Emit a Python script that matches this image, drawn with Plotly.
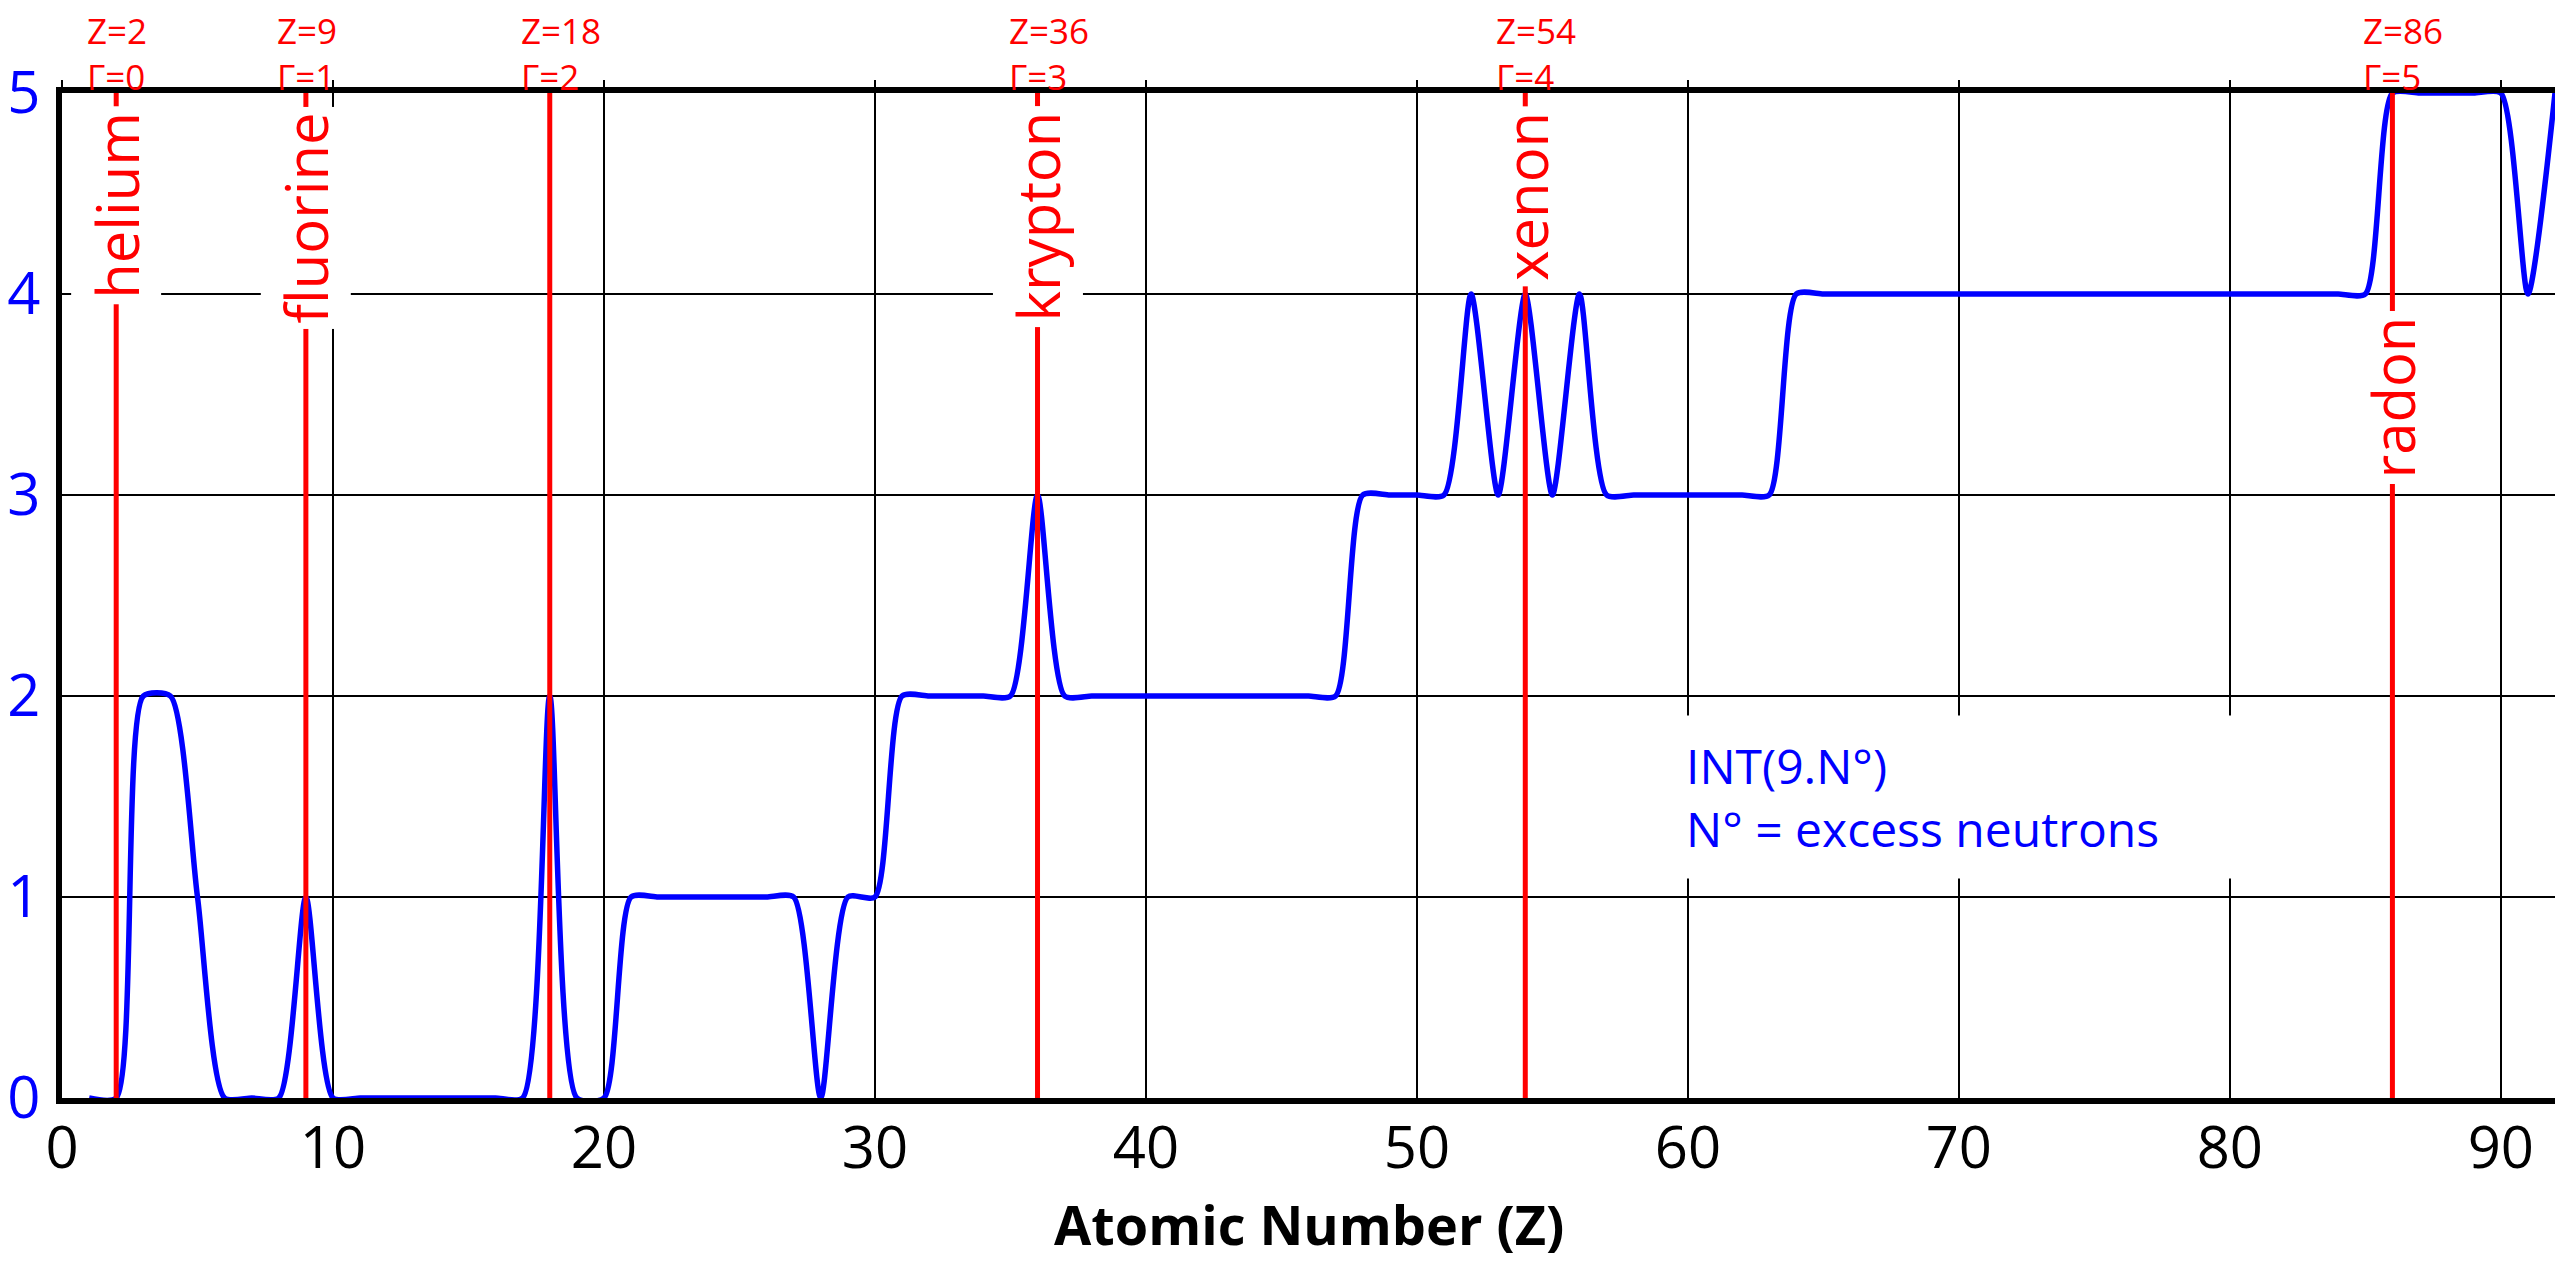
import plotly.graph_objects as go

# atomic number and INT(9.N°) value
z_vals = list(range(1, 93))
int_vals = [
    0, 0, 2, 2, 1, 0, 0, 0, 1, 0,   # 1-10
    0, 0, 0, 0, 0, 0, 0, 2, 0, 0,   # 11-20
    1, 1, 1, 1, 1, 1, 1, 0, 1, 1,   # 21-30
    2, 2, 2, 2, 2, 3, 2, 2, 2, 2,   # 31-40
    2, 2, 2, 2, 2, 2, 2, 3, 3, 3,   # 41-50
    3, 4, 3, 4, 3, 4, 3, 3, 3, 3,   # 51-60
    3, 3, 3, 4, 4, 4, 4, 4, 4, 4,   # 61-70
    4, 4, 4, 4, 4, 4, 4, 4, 4, 4,   # 71-80
    4, 4, 4, 4, 4, 5, 5, 5, 5, 5,   # 81-90
    4, 5,                           # 91-92
]

# marked elements (red lines)
mark_z = [2, 9, 18, 36, 54, 86]
mark_gamma = [0, 1, 2, 3, 4, 5]
mark_names = ["helium", "fluorine", "", "krypton", "xenon", "radon"]
name_top = [4.935, 4.935, None, 4.935, 4.935, 3.92]

x_ticks = [0, 10, 20, 30, 40, 50, 60, 70, 80, 90]
y_ticks = [0, 1, 2, 3, 4, 5]

FONT = "Open Sans"
RED = "#ff0000"
BLUE = "#0000ff"

fig = go.Figure()

fig.add_trace(go.Scatter(
    x=z_vals, y=int_vals, mode="lines",
    line=dict(color=BLUE, width=5.5, shape="spline", smoothing=0.65),
    hoverinfo="skip", showlegend=False,
))

# red vertical lines, put on the top axis (same range) so that axis is drawn
lx, ly = [], []
for z in mark_z:
    lx += [z, z, None]
    ly += [0, 5, None]
fig.add_trace(go.Scatter(
    x=lx, y=ly, xaxis="x2", mode="lines", line=dict(color=RED, width=5),
    hoverinfo="skip", showlegend=False,
))

annots = []
for z, g, name, top in zip(mark_z, mark_gamma, mark_names, name_top):
    annots.append(dict(
        x=z, xref="x", y=1.0619, yref="paper", text=f"Z={z}",
        showarrow=False, xanchor="left", yanchor="middle", xshift=-30,
        borderpad=0, font=dict(family=FONT, size=35, color=RED),
    ))
    annots.append(dict(
        x=z, xref="x", y=1.0164, yref="paper", text=f"Γ={g}",
        showarrow=False, xanchor="left", yanchor="middle", xshift=-30,
        borderpad=0, font=dict(family=FONT, size=35, color=RED),
    ))
    if name:
        annots.append(dict(
            x=z, xref="x", y=top, yref="y", text=name, textangle=-90,
            showarrow=False, xanchor="center", yanchor="top",
            bgcolor="white", borderpad=5,
            font=dict(family=FONT, size=58, color=RED),
        ))

annots.append(dict(
    x=59.6, xref="x", y=1.5, yref="y",
    text="INT(9.N°)<br>N° = excess neutrons",
    showarrow=False, xanchor="left", yanchor="middle", align="left",
    width=600, height=146, bgcolor="white", borderpad=8,
    font=dict(family=FONT, size=48, color=BLUE),
))

# x axis title as a paper annotation so it can sit low in the margin
annots.append(dict(
    x=0.5, xref="paper", y=-0.1254, yref="paper",
    text="<b>Atomic Number (Z)</b>", showarrow=False,
    xanchor="center", yanchor="middle", borderpad=0,
    font=dict(family=FONT, size=54, color="black"),
))

fig.update_layout(
    width=2547, height=1252,
    margin=dict(l=54, r=0, t=85, b=162),
    paper_bgcolor="white", plot_bgcolor="white",
    font=dict(family=FONT),
    annotations=annots,
    showlegend=False,
    xaxis=dict(
        range=[0, 92], tickvals=x_ticks, ticks="", automargin=False,
        showgrid=True, gridcolor="black", gridwidth=2,
        showline=True, linecolor="black", linewidth=6,
        zeroline=False, ticklabelstandoff=-6,
        tickfont=dict(family=FONT, size=58, color="black"),
    ),
    xaxis2=dict(
        range=[0, 92], overlaying="x", side="top", anchor="y",
        tickvals=x_ticks, ticks="outside", ticklen=7, tickwidth=2,
        tickcolor="black", showticklabels=False, showgrid=False,
        showline=True, linecolor="black", linewidth=6, zeroline=False,
        automargin=False,
    ),
    yaxis=dict(
        range=[0, 5], tickvals=y_ticks, ticks="", automargin=False,
        showgrid=True, gridcolor="black", gridwidth=2,
        showline=True, linecolor="black", linewidth=6,
        zeroline=False, ticklabelstandoff=4,
        tickfont=dict(family=FONT, size=58, color=BLUE),
    ),
)

fig.write_html("out.html")
